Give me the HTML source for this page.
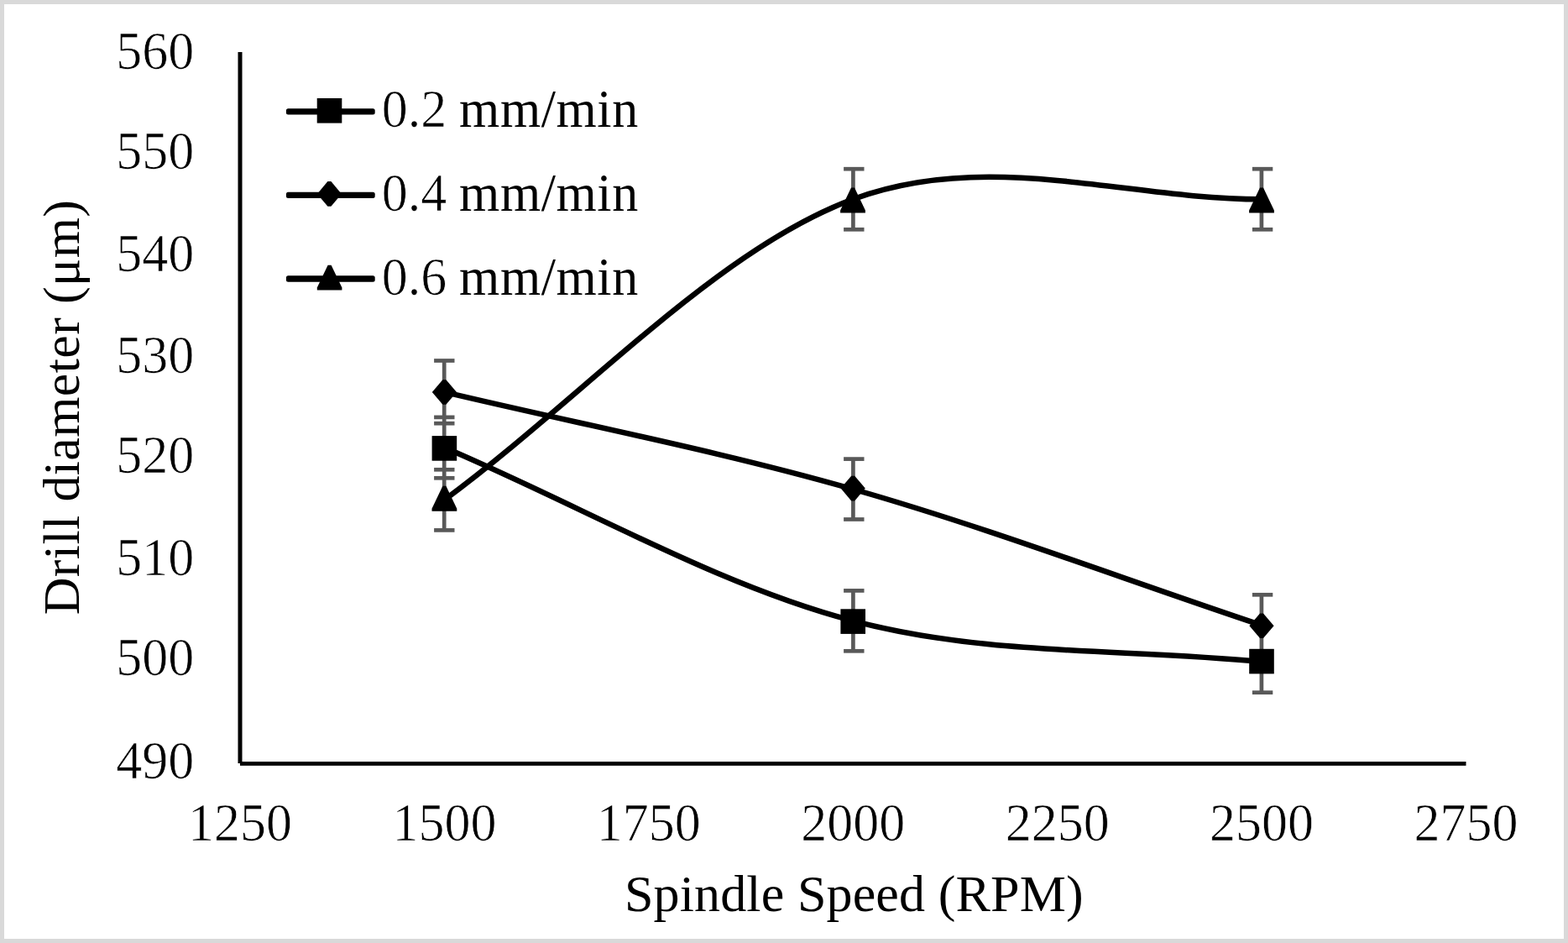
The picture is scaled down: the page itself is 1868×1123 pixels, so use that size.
<!DOCTYPE html>
<html><head><meta charset="utf-8"><style>
html,body{margin:0;padding:0;background:#d9d9d9;}
svg{display:block;}
text{font-family:"Liberation Serif","Times New Roman",serif;font-size:62px;fill:#000;stroke:#fff;stroke-width:0.70px;}
.w{stroke:none;}
</style></head><body>
<svg width="1868" height="1123" viewBox="0 0 1868 1123">
<rect x="0" y="0" width="1868" height="1123" fill="#d9d9d9"/>
<rect x="5" y="5" width="1858" height="1113" fill="#fff"/>
<rect x="283.5" y="62" width="5" height="847" fill="#000"/>
<rect x="286" y="907" width="1460.5" height="4.8" fill="#000"/>
<text transform="translate(231.30,926.55) scale(1.0000,1.0300)" text-anchor="end">490</text>
<text transform="translate(231.30,804.45) scale(1.0000,1.0300)" text-anchor="end">500</text>
<text transform="translate(231.30,685.35) scale(1.0000,1.0300)" text-anchor="end">510</text>
<text transform="translate(231.30,563.45) scale(1.0000,1.0300)" text-anchor="end">520</text>
<text transform="translate(231.30,444.25) scale(1.0000,1.0300)" text-anchor="end">530</text>
<text transform="translate(231.30,322.75) scale(1.0000,1.0300)" text-anchor="end">540</text>
<text transform="translate(231.30,200.65) scale(1.0000,1.0300)" text-anchor="end">550</text>
<text transform="translate(231.30,81.55) scale(1.0000,1.0300)" text-anchor="end">560</text>
<text transform="translate(286.00,1001.30) scale(1.0000,1.0300)" text-anchor="middle">1250</text>
<text transform="translate(529.42,1001.30) scale(1.0000,1.0300)" text-anchor="middle">1500</text>
<text transform="translate(772.84,1001.30) scale(1.0000,1.0300)" text-anchor="middle">1750</text>
<text transform="translate(1016.25,1001.30) scale(1.0000,1.0300)" text-anchor="middle">2000</text>
<text transform="translate(1259.67,1001.30) scale(1.0000,1.0300)" text-anchor="middle">2250</text>
<text transform="translate(1503.09,1001.30) scale(1.0000,1.0300)" text-anchor="middle">2500</text>
<text transform="translate(1746.51,1001.30) scale(1.0000,1.0300)" text-anchor="middle">2750</text>
<rect x="526.85" y="429.50" width="4.70" height="201.90" fill="#595959"/>
<rect x="517.10" y="427.15" width="24.40" height="4.70" fill="#595959"/>
<rect x="517.10" y="494.55" width="24.40" height="4.70" fill="#595959"/>
<rect x="517.10" y="501.85" width="24.40" height="4.70" fill="#595959"/>
<rect x="517.10" y="556.95" width="24.40" height="4.70" fill="#595959"/>
<rect x="517.10" y="566.95" width="24.40" height="4.70" fill="#595959"/>
<rect x="517.10" y="629.05" width="24.40" height="4.70" fill="#595959"/>
<rect x="1014.05" y="201.20" width="4.70" height="72.10" fill="#595959"/>
<rect x="1005.10" y="198.85" width="24.40" height="4.70" fill="#595959"/>
<rect x="1005.10" y="270.95" width="24.40" height="4.70" fill="#595959"/>
<rect x="1014.05" y="546.60" width="4.70" height="71.90" fill="#595959"/>
<rect x="1005.10" y="544.25" width="24.40" height="4.70" fill="#595959"/>
<rect x="1005.10" y="616.15" width="24.40" height="4.70" fill="#595959"/>
<rect x="1014.05" y="703.40" width="4.70" height="71.90" fill="#595959"/>
<rect x="1005.10" y="701.05" width="24.40" height="4.70" fill="#595959"/>
<rect x="1005.10" y="772.95" width="24.40" height="4.70" fill="#595959"/>
<rect x="1500.55" y="201.20" width="4.70" height="72.10" fill="#595959"/>
<rect x="1491.90" y="198.85" width="24.40" height="4.70" fill="#595959"/>
<rect x="1491.90" y="270.95" width="24.40" height="4.70" fill="#595959"/>
<rect x="1500.55" y="708.30" width="4.70" height="116.40" fill="#595959"/>
<rect x="1491.90" y="705.95" width="24.40" height="4.70" fill="#595959"/>
<rect x="1491.90" y="822.35" width="24.40" height="4.70" fill="#595959"/>
<path d="M529.40,533.10 C691.67,601.85 853.93,696.83 1016.20,739.35 C1178.47,781.87 1340.73,771.92 1503.00,788.20" fill="none" stroke="#000" stroke-width="6.50" stroke-linejoin="round"/>
<path d="M529.40,466.85 C691.67,505.42 853.93,536.26 1016.20,582.55 C1178.47,628.84 1340.73,690.58 1503.00,744.60" fill="none" stroke="#000" stroke-width="6.50" stroke-linejoin="round"/>
<path d="M529.40,595.30 C691.67,475.97 853.93,296.97 1016.20,237.30 C1178.47,177.63 1340.73,237.30 1503.00,237.30" fill="none" stroke="#000" stroke-width="6.50" stroke-linejoin="round"/>
<rect x="514.60" y="519.10" width="29.60" height="29.60" fill="#000"/>
<rect x="1001.40" y="725.30" width="29.60" height="29.60" fill="#000"/>
<rect x="1488.20" y="772.80" width="29.60" height="29.60" fill="#000"/>
<polygon points="527.40,452.20 531.40,452.20 544.00,467.00 531.40,481.80 527.40,481.80 514.80,467.00" fill="#000"/>
<polygon points="1014.20,566.80 1018.20,566.80 1030.80,581.60 1018.20,596.40 1014.20,596.40 1001.60,581.60" fill="#000"/>
<polygon points="1501.00,730.40 1505.00,730.40 1517.60,745.20 1505.00,760.00 1501.00,760.00 1488.40,745.20" fill="#000"/>
<polygon points="527.40,578.70 531.40,578.70 544.30,605.70 544.30,608.70 514.50,608.70 514.50,605.70" fill="#000"/>
<polygon points="1014.00,223.40 1018.00,223.40 1030.90,250.40 1030.90,253.40 1001.10,253.40 1001.10,250.40" fill="#000"/>
<polygon points="1501.00,223.40 1505.00,223.40 1517.90,250.40 1517.90,253.40 1488.10,253.40 1488.10,250.40" fill="#000"/>
<rect x="340.9" y="129.20" width="105.8" height="7.3" rx="2.5" fill="#000"/>
<rect x="377.70" y="117.00" width="29.60" height="29.60" fill="#000"/>
<text transform="translate(454.70,151.30) scale(1.0000,1.0150)">0.2 <tspan class="w" x="92.4" textLength="213.1" lengthAdjust="spacing">mm/min</tspan></text>
<rect x="340.9" y="228.65" width="105.8" height="7.3" rx="2.5" fill="#000"/>
<polygon points="390.40,216.10 394.40,216.10 406.90,230.90 394.40,245.70 390.40,245.70 377.90,230.90" fill="#000"/>
<text transform="translate(454.70,251.00) scale(1.0000,1.0150)">0.4 <tspan class="w" x="92.4" textLength="213.1" lengthAdjust="spacing">mm/min</tspan></text>
<rect x="340.9" y="328.35" width="105.8" height="7.3" rx="2.5" fill="#000"/>
<polygon points="390.60,315.80 394.60,315.80 407.40,342.40 407.40,345.40 377.80,345.40 377.80,342.40" fill="#000"/>
<text transform="translate(454.70,350.70) scale(1.0000,1.0150)">0.6 <tspan class="w" x="92.4" textLength="213.1" lengthAdjust="spacing">mm/min</tspan></text>
<text class="w" transform="translate(743.90,1085.20) scale(1.0000,1.0000)" textLength="546.70" lengthAdjust="spacing">Spindle Speed (RPM)</text>
<text class="w" transform="translate(94.20,732.30) rotate(-90) scale(1.0000,1.0000)" textLength="494.20" lengthAdjust="spacing">Drill diameter (μm)</text>
</svg>
</body></html>
